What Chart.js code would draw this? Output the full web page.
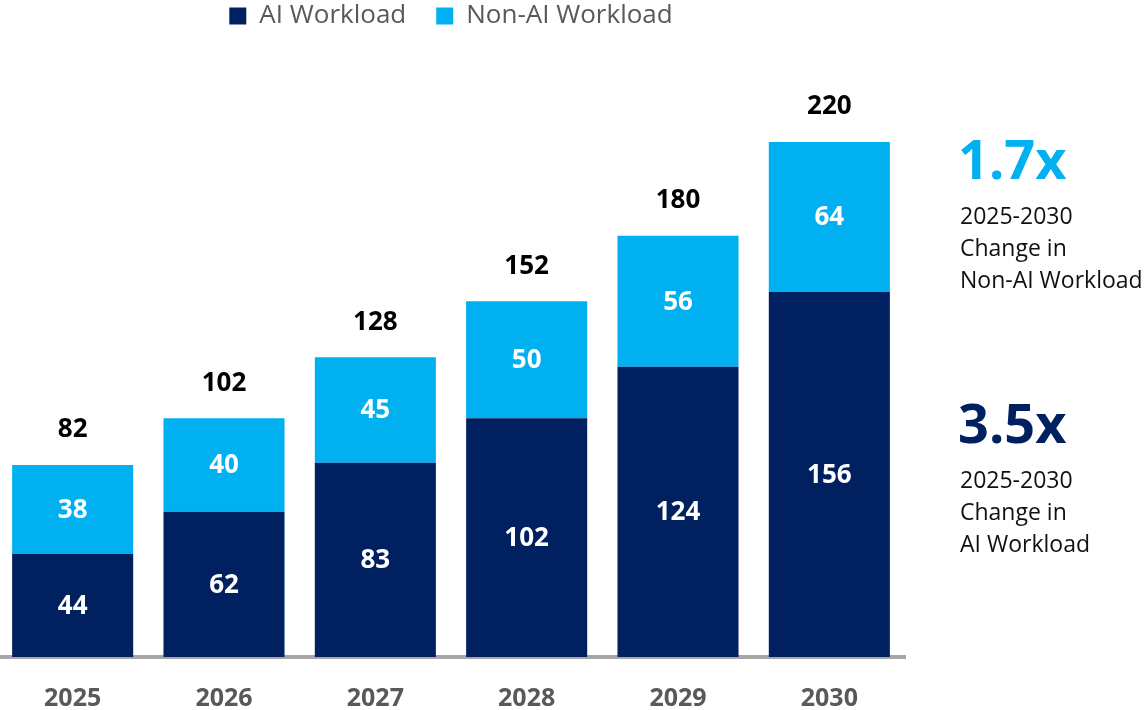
<!DOCTYPE html>
<html>
<head>
<meta charset="utf-8">
<script src="https://cdn.jsdelivr.net/npm/chart.js@4"></script>
<style>
  html, body { margin: 0; padding: 0; background: #fff; overflow: hidden; }
  #wrap { width: 1145px; height: 710px; position: relative; overflow: hidden; }
  #myChart { position: absolute; left: -3px; top: 0; }
</style>
</head>
<body>
<div id="wrap"><canvas id="myChart" width="1148" height="710"></canvas></div>
<script>
const years = ["2025", "2026", "2027", "2028", "2029", "2030"];
const aiWorkload = [44, 62, 83, 102, 124, 156];
const nonAiWorkload = [38, 40, 45, 50, 56, 64];
const seriesNames = ["AI Workload", "Non-AI Workload"];
const growthCallouts = [
    { big: "1.7x", lines: ["2025-2030", "Change in", "Non-AI Workload"] },
    { big: "3.5x", lines: ["2025-2030", "Change in", "AI Workload"] }
];

const darkBlue = "#002060";
const lightBlue = "#00B0F0";
const font = "'Open Sans', 'DejaVu Sans', sans-serif";

// white numbers inside each segment plus the stack total above it
const valueLabels = {
    id: "valueLabels",
    afterDatasetsDraw(chart) {
        const c = chart.ctx;
        c.save();
        c.textAlign = "center";
        c.textBaseline = "middle";
        c.font = "bold 26px " + font;
        c.fillStyle = "#ffffff";
        chart.data.datasets.forEach((ds, i) => {
            chart.getDatasetMeta(i).data.forEach((bar, j) => {
                c.fillText(ds.data[j], bar.x, (bar.y + bar.base) / 2 + 1);
            });
        });
        const top = chart.getDatasetMeta(chart.data.datasets.length - 1).data;
        c.fillStyle = "#000000";
        top.forEach((bar, j) => {
            const total = aiWorkload[j] + nonAiWorkload[j];
            c.fillText(total, bar.x, bar.y - 35);
        });
        c.restore();
    }
};

// growth callouts on the right side (canvas sits 3px left of the page)
const callouts = {
    id: "callouts",
    afterDraw(chart) {
        const c = chart.ctx;
        const x = 963;
        const starts = [164, 428];
        const colors = [lightBlue, darkBlue];
        c.save();
        c.textAlign = "left";
        c.textBaseline = "middle";
        growthCallouts.forEach((g, i) => {
            c.fillStyle = colors[i];
            c.font = "bold 54px " + font;
            c.fillText(g.big, x - 2, starts[i]);
            c.fillStyle = "#111111";
            c.font = "23px " + font;
            g.lines.forEach((t, k) => c.fillText(t, x, starts[i] + 53 + k * 32));
        });
        c.restore();
    }
};

const ctx = document.getElementById("myChart");
new Chart(ctx, {
    type: "bar",
    data: {
        labels: years,
        datasets: [
            { label: seriesNames[0], data: aiWorkload, backgroundColor: darkBlue },
            { label: seriesNames[1], data: nonAiWorkload, backgroundColor: lightBlue }
        ]
    },
    options: {
        responsive: false,
        animation: false,
        layout: { padding: { left: 0, right: 240, top: -27, bottom: 0 } },
        datasets: { bar: { barPercentage: 0.8, categoryPercentage: 1 } },
        plugins: {
            tooltip: { enabled: false },
            legend: {
                position: "top",
                labels: {
                    boxWidth: 17,
                    boxHeight: 17,
                    padding: 30,
                    color: "#595959",
                    font: { family: font, size: 26 }
                }
            }
        },
        scales: {
            x: {
                stacked: true,
                z: 1,
                grid: { display: false, drawTicks: false },
                border: { display: true, color: "#a6a6a6", width: 4 },
                ticks: {
                    padding: 27,
                    color: "#595959",
                    font: { family: font, size: 25, weight: "bold" }
                },
                afterFit(scale) {
                    scale.height = 53;
                }
            },
            y: {
                stacked: true,
                display: false,
                min: 0,
                max: 264
            }
        }
    },
    plugins: [valueLabels, callouts]
});
</script>
</body>
</html>
